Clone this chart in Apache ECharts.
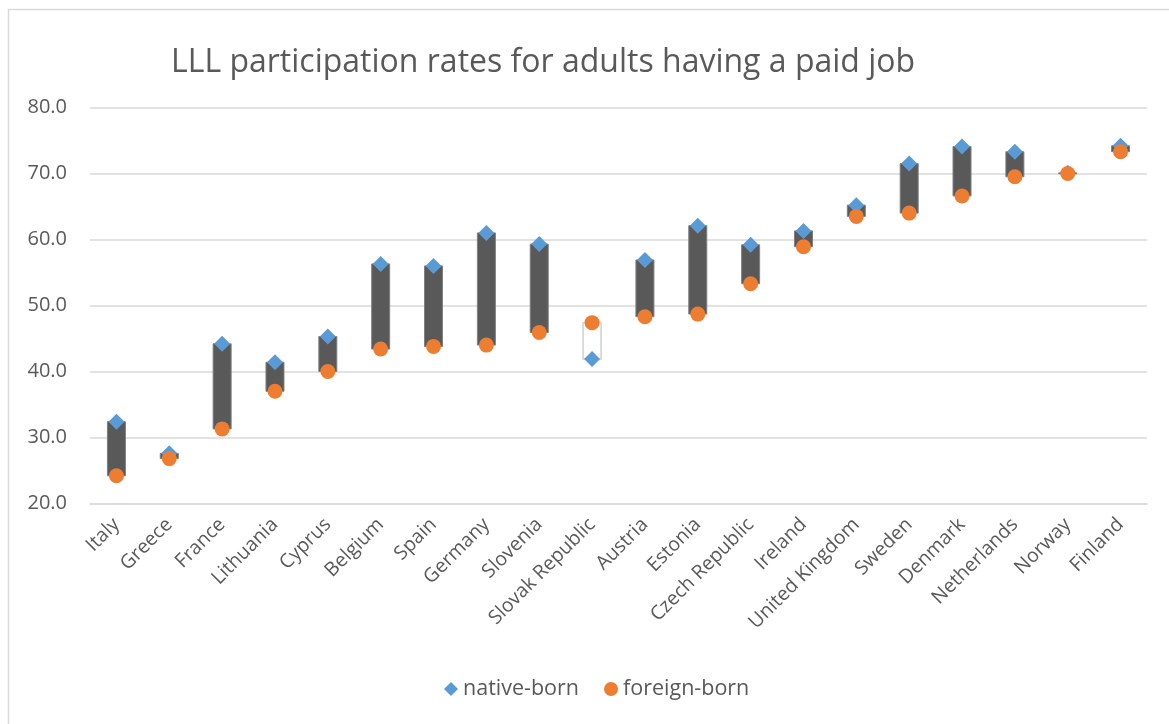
<!DOCTYPE html>
<html>
<head>
<meta charset="utf-8">
<script src="https://cdn.jsdelivr.net/npm/echarts@6/dist/echarts.min.js"></script>
<style>
html,body{margin:0;padding:0;background:#fff;}
#chart{width:1169px;height:724px;}
</style>
</head>
<body>
<div id="chart"></div>
<script>
const categories = ["Italy","Greece","France","Lithuania","Cyprus","Belgium","Spain","Germany","Slovenia","Slovak Republic","Austria","Estonia","Czech Republic","Ireland","United Kingdom","Sweden","Denmark","Netherlands","Norway","Finland"];
const nativeBorn  = [32.4,27.6,44.2,41.4,45.3,56.3,56.0,61.0,59.3,41.9,56.9,62.1,59.2,61.3,65.2,71.5,74.1,73.3,70.1,74.2];
const foreignBorn = [24.2,26.8,31.3,37.0,40.0,43.4,43.8,44.0,45.9,47.4,48.3,48.7,53.3,58.9,63.5,64.0,66.6,69.5,70.0,73.3];
const yTicks = [20,30,40,50,60,70,80];

const FONT = '"Open Sans", sans-serif';
const chart = echarts.init(document.getElementById('chart'), null, {renderer:'canvas'});

const barData = categories.map((c,i)=>[i, nativeBorn[i], foreignBorn[i]]);

chart.setOption({
  animation:false,
  backgroundColor:'#fff',
  title:{
    text:'LLL participation rates for adults having a paid job',
    left:166, top:42,
    textStyle:{fontFamily:FONT, fontSize:32, fontWeight:'normal', color:'#595959'}
  },
  graphic:[{
    type:'rect', shape:{x:8.5,y:9.5,width:1200,height:800},
    style:{fill:'none', stroke:'#d9d9d9', lineWidth:1.5}, silent:true, z:-1
  }],
  legend:{
    data:[{name:'native-born', icon:'diamond'},{name:'foreign-born', icon:'circle'}],
    bottom:19, left:439,
    itemWidth:14, itemHeight:14, itemGap:25,
    textStyle:{fontFamily:FONT, fontSize:21.5, color:'#595959'}
  },
  grid:{left:90, right:22, top:107.5, bottom:220.5, containLabel:false},
  xAxis:{
    type:'category', data:categories,
    axisLine:{show:true, lineStyle:{color:'#d9d9d9', width:1.5}},
    axisTick:{show:false},
    axisLabel:{rotate:45, interval:0, margin:18, fontFamily:FONT, fontSize:19.5, color:'#595959'}
  },
  yAxis:{
    type:'value', min:yTicks[0], max:yTicks[yTicks.length-1], interval:10,
    axisLine:{show:false}, axisTick:{show:false},
    axisLabel:{formatter:v=>v.toFixed(1), margin:23, fontFamily:FONT, fontSize:20, color:'#595959'},
    splitLine:{lineStyle:{color:'#d9d9d9', width:1.5}}
  },
  series:[
    {
      type:'custom', name:'bars', z:1,
      data:barData,
      encode:{x:0, y:[1,2]},
      renderItem:function(params, api){
        const i = api.value(0), n = api.value(1), f = api.value(2);
        const pHi = api.coord([i, Math.max(n,f)]);
        const pLo = api.coord([i, Math.min(n,f)]);
        const w = 18;
        const down = n >= f;
        return {
          type:'rect',
          shape:{x:pHi[0]-w/2, y:pHi[1], width:w, height:Math.max(pLo[1]-pHi[1],1)},
          style:down ? {fill:'#595959', stroke:'#7f7f7f', lineWidth:1}
                     : {fill:'#ffffff', stroke:'#d0d0d0', lineWidth:1.5}
        };
      }
    },
    {
      type:'scatter', name:'native-born', z:3,
      data:nativeBorn, symbol:'diamond', symbolSize:16,
      itemStyle:{color:'#5B9BD5', opacity:1}
    },
    {
      type:'scatter', name:'foreign-born', z:4,
      data:foreignBorn, symbol:'circle', symbolSize:15,
      itemStyle:{color:'#ED7D31', opacity:1}
    }
  ]
});
</script>
</body>
</html>
